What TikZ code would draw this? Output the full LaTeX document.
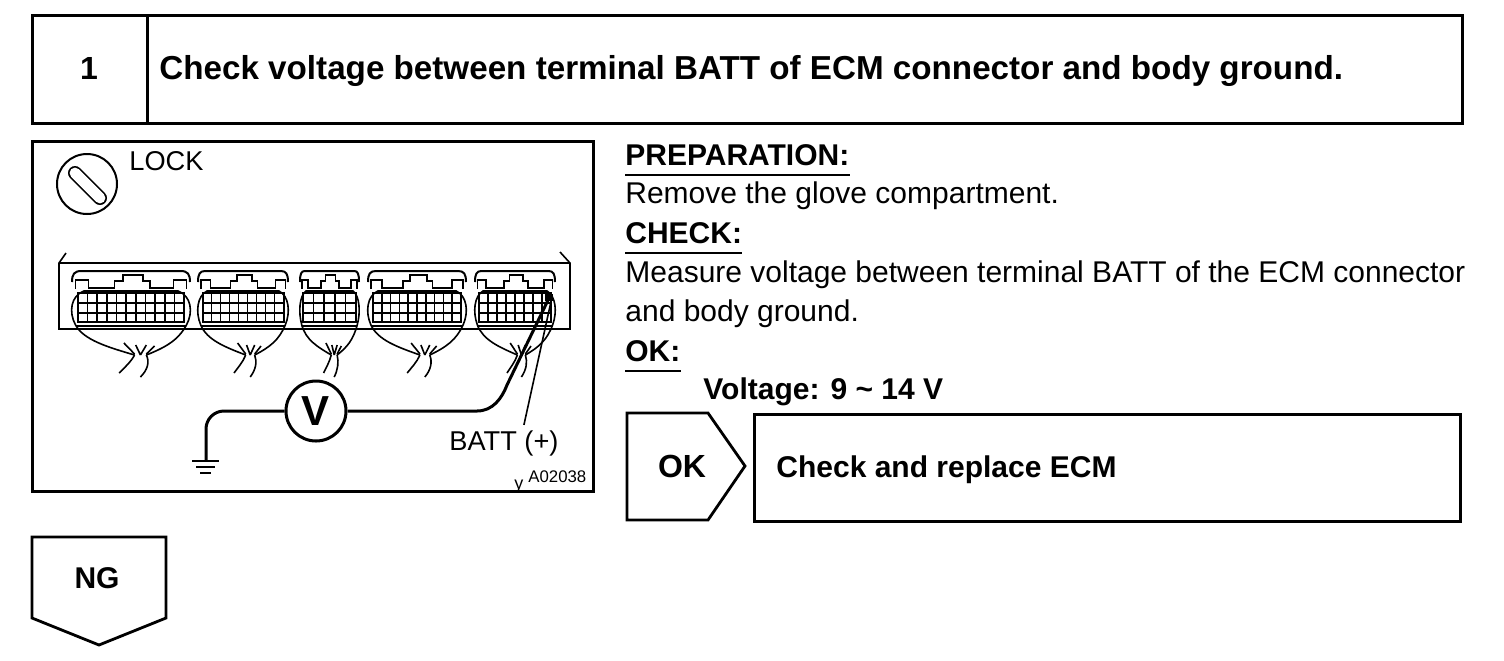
\documentclass[tikz,border=0pt]{standalone}
\usepackage{fontspec}
\setmainfont{Liberation Sans}
\usetikzlibrary{calc}

\tikzset{
  box/.style={draw, line width=1.4pt, inner sep=0pt},
  bodytext/.style={anchor=base west, inner sep=0pt, font=\fontsize{15}{17}\selectfont},
  figtext/.style={anchor=base west, inner sep=0pt, font=\fontsize{13.6}{16}\selectfont},
  headtext/.style={anchor=base west, inner sep=0pt, font=\fontsize{15}{17}\selectfont\bfseries},
  thin part/.style={line width=.8pt},
  wire/.style={line width=1.5pt, rounded corners=9pt}
}

% one connector: left edge, width, columns of the grid
\newcommand{\ecmconn}[3]{
  \begin{scope}[shift={(#1,0)}, xscale=#2/100, thin part]
    \draw[line width=1pt] (0,282) .. controls (0,274) and (2,271) .. (8,271) -- (92,271) .. controls (98,271) and (100,274) .. (100,282);
    \draw (3,289) -- (3,280) -- (14,280) -- (14,288) -- (36,288) -- (36,281) -- (43,281) -- (43,275) -- (60,275) -- (60,281) -- (66,281) -- (66,288) -- (86,288) -- (86,280) -- (97,280) -- (97,289);
    \draw[line width=1pt] (5,293) rectangle (95,322);
    \foreach \row in {303,313}
      \draw (5,\row) -- (95,\row);
    \pgfmathsetmacro{\cellw}{90/#3}
    \foreach \col in {1,...,#3}
      \draw (5+\col*\cellw,293) -- (5+\col*\cellw,322);
    \draw[line width=1.3pt] (3,326) -- (97,326);
    \draw (53,355) .. controls (30,347) and (10,340) .. (3,325) .. controls (-3,312) and (-1,296) .. (10,291) -- (90,291) .. controls (101,296) and (103,312) .. (97,325) .. controls (90,340) and (80,347) .. (63,355);
    \draw (53,355) .. controls (50,362) and (44,368) .. (40,373);
    \draw (63,355) .. controls (66,362) and (64,370) .. (58,377);
    \draw (53,354) -- (44,343) (58,355) -- (54,345) (58,355) -- (63,345) (63,354) -- (70,346);
  \end{scope}
}

\begin{document}
\begin{tikzpicture}[x=.5pt, y=-.5pt]
  \useasboundingbox (0,0) rectangle (1504,660);

  \node (numbox) [box, minimum width=57.5pt, minimum height=54pt, anchor=north west] at (31,14) {};
  \node (titlebox) [box, minimum width=657.5pt, minimum height=54pt, anchor=north west] at (146,14) {};
  \node (num) at (89,68) {\fontsize{16}{17}\selectfont\bfseries 1};
  \node (title) [headtext, font=\fontsize{16.6}{18}\selectfont\bfseries] at (159,79) {Check voltage between terminal BATT of ECM connector and body ground.};

  \node (figbox) [box, minimum width=280.5pt, minimum height=175pt, anchor=north west] at (31,140) {};
  \node (lockmark) [draw, circle, line width=1pt, minimum size=30pt, inner sep=0pt] at (87,184) {};
  \draw[double, double distance=5.4pt, line width=.8pt, line cap=round] (75,173) -- (100,198);
  \node (lock) [figtext] at (129,170) {LOCK};

  \draw[line width=.8pt] (66,253) -- (59,263) -- (59,329) -- (570,329) -- (570,263) -- (560,252);
  \draw[line width=.8pt] (59,263) -- (570,263);
  \ecmconn{72}{118}{11}
  \ecmconn{198}{90}{9}
  \ecmconn{300}{59}{5}
  \ecmconn{368}{98}{10}
  \ecmconn{475}{80}{8}

  \node (vmeter) [draw, circle, line width=1.5pt, minimum size=30pt, inner sep=0pt, font=\fontsize{21}{22}\selectfont\bfseries] at (316,411) {V};
  \coordinate (gnd) at (206,461);
  \coordinate (probe) at (550,296);
  \draw[wire] (vmeter.west) -- (206,411) -- (gnd);
  \draw[line width=1.5pt] (vmeter.east) -- (477,411) .. controls (493,411) and (502,398) .. (507,385) -- (probe);
  \draw[line width=1pt] (192,461) -- (219,461) (196,467) -- (215,467) (200,473) -- (211,473);
  \node (batt) [figtext] at (449,450) {BATT (+)};
  \draw[line width=.8pt] (batt.north) ++(20,-5) coordinate (calloutend) -- (552,297);
  \node (terminal) [fill, minimum width=4pt, minimum height=3.5pt, inner sep=0pt] at (549,297) {};
  \node (ycode) [figtext, font=\fontsize{9}{10}\selectfont] at (514,489) {y};
  \node (code) [figtext, font=\fontsize{8.4}{10}\selectfont] at (528,482) {A02038};

  \node (prep) [headtext] at (625,165) {PREPARATION:};
  \draw[line width=.7pt] ([yshift=-5pt]prep.base west) -- ([yshift=-5pt]prep.base east);
  \node (remove) [bodytext] at (625,203) {Remove the glove compartment.};
  \node (check) [headtext] at (625,243) {CHECK:};
  \draw[line width=.7pt] ([yshift=-5pt]check.base west) -- ([yshift=-5pt]check.base east);
  \node (measure) [bodytext] at (625,282) {Measure voltage between terminal BATT of the ECM connector};
  \node (ground) [bodytext] at (625,321) {and body ground.};
  \node (ok) [headtext] at (625,361) {OK:};
  \draw[line width=.7pt] ([yshift=-5pt]ok.base west) -- ([yshift=-5pt]ok.base east);
  \node (volt) [headtext] at (703,399) {Voltage: 9 \char"7E\ 14 V};

  \draw[box] (627,413) coordinate (oka) -- (708,413) -- (745,466) coordinate (oktip) -- (708,520) -- (627,520) -- cycle;
  \node (oklabel) [headtext, anchor=center, font=\fontsize{16}{17}\selectfont\bfseries] at (682,466) {OK};
  \node (replace) [box, minimum width=353pt, minimum height=53.5pt, anchor=north west] at (753,413) {};
  \node (replacetext) [headtext] at (776,477) {Check and replace ECM};

  \draw[box] (32,537) -- (166,537) -- (166,618) -- (99,645) -- (32,618) -- cycle;
  \node (ng) [headtext, anchor=center] at (97,578) {NG};
\end{tikzpicture}
\end{document}
